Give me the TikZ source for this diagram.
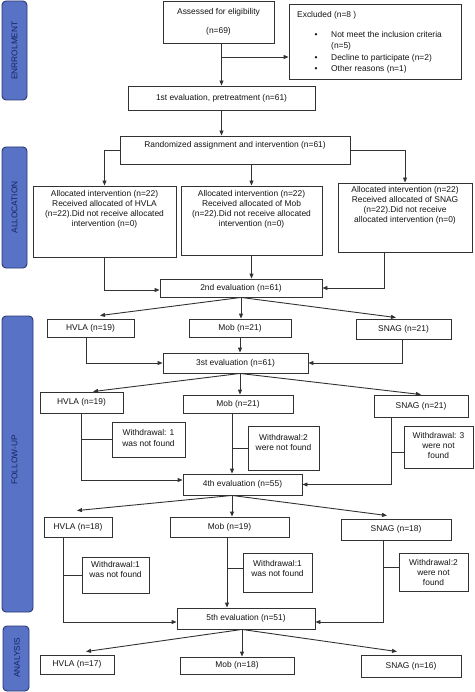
\documentclass[tikz,border=0pt]{standalone}
\usepackage{fontspec}
\setmainfont{Liberation Sans}
\usetikzlibrary{arrows.meta}
\definecolor{linec}{RGB}{50,50,50}
\definecolor{txtc}{RGB}{20,20,20}
\definecolor{barfill}{RGB}{88,115,198}
\definecolor{bardraw}{RGB}{40,55,115}
\definecolor{bartext}{RGB}{20,35,100}
\begin{document}
\begin{tikzpicture}[x=1pt,y=-1pt,
  box/.style={draw=linec, line width=0.9pt, fill=white, inner sep=0pt, align=center, font=\fontsize{8.4}{10}\selectfont, text=txtc},
  bx/.style 2 args={minimum width=#1pt, minimum height=#2pt},
  txt/.style={inner sep=0pt, align=center, font=\fontsize{8.4}{10}\selectfont, text=txtc},
  bar/.style={draw=bardraw, fill=barfill, line width=0.9pt, rounded corners=4pt},
  bartxt/.style={rotate=90, inner sep=0pt, font=\fontsize{8.3}{10}\selectfont, text=bartext},
  arr/.style={draw=linec, line width=0.9pt, -{Triangle[length=5pt,width=4pt]}},
  ln/.style={draw=linec, line width=0.9pt}]
\useasboundingbox (0,0) rectangle (474,692);

% side bars
\draw[bar] (2,1) rectangle (27,100);
\node[bartxt] (lenrol) at (14.5,50.5) {ENRROLMENT};
\draw[bar] (2,147) rectangle (27,268);
\node[bartxt] (lalloc) at (14.5,207.5) {ALLOCATION};
\draw[bar] (2,316) rectangle (33,612);
\node[bartxt] (lfollow) at (14.5,460) {FOLLOW-UP};
\draw[bar] (3,626) rectangle (29,691);
\node[bartxt] (lanal) at (17,658) {ANALYSIS};

% enrolment
\node[box,bx={111}{42}] (assess) at (218.5,22) {Assessed for eligibility\\[9pt](n=69)};
\node[box,bx={172}{75}] (excl) at (375,41.5) {};
\node[txt, align=left, anchor=north west, font=\fontsize{8.4}{11.5}\selectfont] (exclt) at (297,11)
 {Excluded (n=8 )\\[8.5pt]
  \hspace*{17.5pt}\makebox[16.5pt][l]{•}Not meet the inclusion criteria\\
  \hspace*{34pt}(n=5)\\
  \hspace*{17.5pt}\makebox[16.5pt][l]{•}Decline to participate (n=2)\\
  \hspace*{17.5pt}\makebox[16.5pt][l]{•}Other reasons (n=1)};
\node[box,bx={187}{24}] (eval1) at (221.5,98) {1st evaluation, pretreatment (n=61)};
\node[box,bx={230}{28}] (rand) at (235,150) {};
\node[txt] (randt) at (235,145) {Randomized assignment and intervention (n=61)};

% allocation
\node[box,bx={143}{71}] (allocH) at (104.5,221.5) {};
\node[txt] (allocHt) at (104.5,209.5) {Allocated intervention (n=22)\\Received allocated of HVLA\\(n=22).Did not receive allocated\\intervention (n=0)};
\node[box,bx={141}{69}] (allocM) at (251.5,220.5) {};
\node[txt] (allocMt) at (251.5,209.5) {Allocated intervention (n=22)\\Received allocated of Mob\\(n=22).Did not receive allocated\\intervention (n=0)};
\node[box,bx={134}{69}] (allocS) at (405,217.5) {};
\node[txt] (allocSt) at (405,205.5) {Allocated intervention (n=22)\\Received allocated of SNAG\\(n=22).Did not receive\\allocated intervention (n=0)};
\node[box,bx={162}{18}] (eval2) at (241,288) {2nd evaluation (n=61)};

% follow-up row 1
\node[box,bx={87}{18}] (h1) at (90.5,328) {HVLA (n=19)};
\node[box,bx={102}{18}] (m1) at (240,328) {Mob (n=21)};
\node[box,bx={95}{20}] (s1) at (403.5,329) {SNAG (n=21)};
\node[box,bx={145}{20}] (e3) at (235.5,363) {3st evaluation (n=61)};

% row 2
\node[box,bx={83}{21}] (h2) at (81.5,402.5) {HVLA (n=19)};
\node[box,bx={110}{18}] (m2) at (238,404) {Mob (n=21)};
\node[box,bx={94}{22}] (s2) at (421,406) {SNAG (n=21)};
\node[box,bx={73}{35}] (hw1) at (148.5,439.5) {};
\node[txt,font=\fontsize{8.4}{11.5}\selectfont] (hw1t) at (148.5,438) {Withdrawal: 1\\was not found};
\node[box,bx={71}{44}] (mw) at (283.5,448) {};
\node[txt] (mwt) at (283.5,442) {Withdrawal:2\\were not found};
\node[box,bx={69}{42}] (sw) at (438.5,447) {};
\node[txt] (swt) at (438.5,445) {Withdrawal: 3\\were not\\found};
\node[box,bx={119}{21}] (e4) at (242.5,484.5) {4th evaluation (n=55)};

% row 3
\node[box,bx={68}{20}] (h3) at (78,527) {HVLA (n=18)};
\node[box,bx={119}{20}] (m3) at (229.5,527) {Mob (n=19)};
\node[box,bx={110}{21}] (s3) at (396,529.5) {SNAG (n=18)};
\node[box,bx={67}{36}] (hw3) at (115.5,575) {};
\node[txt] (hw3t) at (115.5,569.5) {Withdrawal:1\\was not found};
\node[box,bx={69}{39}] (mw3) at (277.5,572.5) {};
\node[txt] (mw3t) at (277.5,568) {Withdrawal:1\\was not found};
\node[box,bx={69}{38}] (sw3) at (433.5,572) {};
\node[txt] (sw3t) at (433.5,572) {Withdrawal:2\\were not\\found};
\node[box,bx={138}{21}] (e5) at (246,618.5) {5th evaluation (n=51)};

% analysis
\node[box,bx={74}{19}] (h4) at (77,664.5) {HVLA (n=17)};
\node[box,bx={114}{17}] (m4) at (237,665.5) {Mob (n=18)};
\node[box,bx={100}{22}] (s4) at (411,666) {SNAG (n=16)};

% connectors: enrolment
\draw[arr] (eval1.north |- assess.south) -- (eval1.north);
\coordinate (exin) at ([yshift=-15.5pt]excl.west);
\draw[arr] (exin -| eval1.north) -- (exin);
\draw[arr] (eval1.south) -- (eval1.south |- rand.north);

% allocation
\draw[arr] (rand.west) -| (allocH.north);
\draw[arr] (rand.south -| allocM.north) -- (allocM.north);
\draw[arr] (rand.east) -| (allocS.north);
\draw[arr] (allocH.south) |- ([yshift=-2pt]eval2.west);
\draw[arr] (allocM.south) -- (allocM.south |- eval2.north);
\coordinate (sA) at ([xshift=-21pt]allocS.south);
\draw[arr] (sA) |- (eval2.east);

% eval2 -> row 1
\draw[arr] (eval2.south) -- ([xshift=9.5pt,yshift=3pt]h1.north);
\draw[arr] (eval2.south) -- (eval2.south |- m1.north);
\draw[arr] (eval2.south) -- ([xshift=-7.5pt,yshift=1pt]s1.north);

% row 1 -> e3
\coordinate (hL1) at ([xshift=-4.5pt]h1.south);
\draw[arr] (hL1) |- (e3.west);
\draw[arr] (m1.south) -- (m1.south |- e3.north);
\coordinate (sL1) at ([xshift=-1.5pt]s1.south);
\draw[arr] (sL1) |- (e3.east);

% e3 -> row 2
\coordinate (e3s) at (e3.south -| m1.south);
\draw[arr] (e3s) -- ([xshift=11.5pt]h2.north);
\draw[arr] (e3s) -- (e3s |- m2.north);
\draw[arr] (e3s) -- (s2.north);

% row 2 -> e4
\coordinate (hL2) at (h2.south);
\draw[arr] (hL2) |- ([yshift=4.5pt]e4.west);
\draw[ln] (hL2 |- hw1.west) -- (hw1.west);
\coordinate (mL2) at ([xshift=-6pt]m2.south);
\draw[arr] (mL2) -- (mL2 |- e4.north);
\draw[ln] (mL2 |- mw.west) -- (mw.west);
\coordinate (sL2) at ([xshift=-30pt]s2.south);
\draw[arr] (sL2) |- (e4.east);
\coordinate (swin) at ([yshift=-5pt]sw.west);
\draw[ln] (sL2 |- swin) -- (swin);

% e4 -> row 3
\coordinate (e4s) at (mL2 |- e4.south);
\draw[arr] (e4s) -- ([xshift=-1pt,yshift=6pt]h3.north);
\draw[arr] (e4s) -- (e4s |- m3.north);
\draw[arr] (e4s) -- ([xshift=-9pt,yshift=3pt]s3.north);

% row 3 -> e5
\coordinate (hL3) at ([xshift=-15pt]h3.south);
\draw[arr] (hL3) |- ([yshift=-3.5pt]e5.west);
\draw[ln] (hL3 |- hw3.west) -- (hw3.west);
\coordinate (mL3) at ([xshift=-2.5pt]m3.south);
\draw[arr] (mL3) -- (mL3 |- e5.north);
\coordinate (mwin) at ([yshift=4.5pt]mw3.west);
\draw[ln] (mL3 |- mwin) -- (mwin);
\coordinate (sL3) at ([xshift=-13pt]s3.south);
\draw[arr] (sL3) |- ([yshift=-3.5pt]e5.east);
\coordinate (swin3) at ([yshift=5pt]sw3.west);
\draw[ln] (sL3 |- swin3) -- (swin3);

% e5 -> analysis
\coordinate (e5s) at ([xshift=-4pt]e5.south);
\draw[arr] (e5s) -- ([xshift=9pt,yshift=3pt]h4.north);
\draw[arr] (e5s) -- (e5s |- m4.north);
\draw[arr] (e5s) -- ([xshift=-14pt,yshift=3pt]s4.north);
\end{tikzpicture}
\end{document}
